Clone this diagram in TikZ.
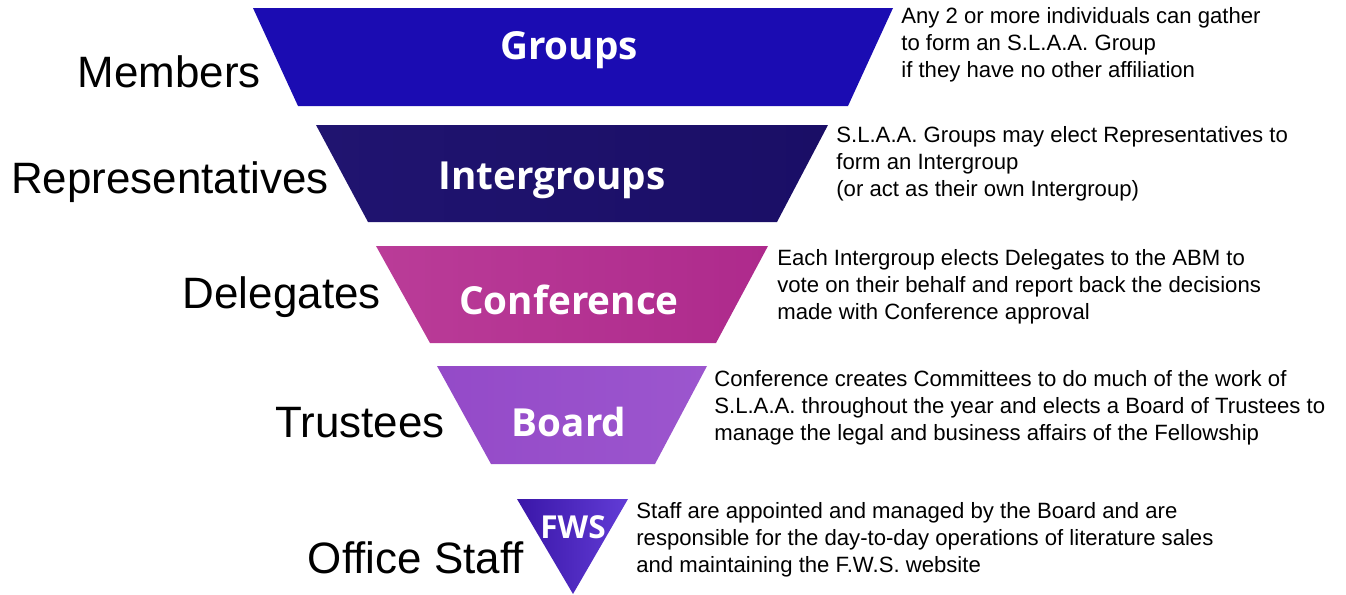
\documentclass[tikz,border=0pt]{standalone}
\usepackage{fontspec}
\setmainfont{Liberation Sans}
\newfontfamily\tierfont{Open Sans}
\usetikzlibrary{positioning}
\definecolor{colg}{RGB}{27,12,178}
\definecolor{coli}{RGB}{26,14,102}
\definecolor{colil}{RGB}{32,20,112}
\definecolor{colc}{RGB}{174,42,140}
\definecolor{colcl}{RGB}{186,60,152}
\definecolor{colb}{RGB}{148,74,200}
\definecolor{colbl}{RGB}{156,86,206}
\definecolor{colf}{RGB}{98,60,214}
\definecolor{colfd}{RGB}{58,22,168}

\begin{document}
\begin{tikzpicture}[x=0.02cm, y=-0.02cm,
    tier/.style={text=white, inner sep=0pt, font=\tierfont\bfseries\fontsize{22}{26}\selectfont},
    role/.style={anchor=east, inner sep=0pt, font=\fontsize{25}{30}\selectfont},
    note/.style={anchor=west, align=left, inner sep=0pt, font=\fontsize{12.6}{15.3}\selectfont}]
  \useasboundingbox (0,0) rectangle (1346,595);

  % the five levels, widest on top
  \fill[colg] (253,8) -- (893,8) -- (848,106) -- (298,106) -- cycle;
  \shade[left color=colil, right color=coli] (316,125) -- (828,125) -- (777,222) -- (368,222) -- cycle;
  \shade[left color=colcl, right color=colc] (376,246) -- (768,246) -- (716,343) -- (430,343) -- cycle;
  \shade[left color=colb, right color=colbl] (437,366) -- (707,366) -- (655,464) -- (491,464) -- cycle;
  \shade[left color=colfd, right color=colf] (517,499) -- (628,499) -- (573,594) -- cycle;

  \node[tier] (groups) at (569,50) {Groups};
  \node[tier] (intergroups) at (552,180) {Intergroups};
  \node[tier] (conference) at (569,300) {Conference};
  \node[tier] (board) at (569,422) {Board};
  \node[tier, font=\tierfont\bfseries\fontsize{18}{20}\selectfont] (fws) at (573,527) {FWS};

  \node[role] (members) at (261,72) {Members};
  \node[role] (reps) at (329,182) {Representatives};
  \node[role] (delegates) at (381,297) {Delegates};
  \node[role] (trustees) at (445,423) {Trustees};
  \node[role] (staff) at (524,558) {Office Staff};

  \node[note] (groupsnote) at (901,45) {Any 2 or more individuals can gather\\to form an S.L.A.A. Group\\if they have no other affiliation};
  \node[note] (intergroupsnote) at (836,164) {S.L.A.A. Groups may elect Representatives to\\form an Intergroup\\(or act as their own Intergroup)};
  \node[note] (conferencenote) at (777,287) {Each Intergroup elects Delegates to the ABM to\\vote on their behalf and report back the decisions\\made with Conference approval};
  \node[note] (boardnote) at (714,408) {Conference creates Committees to do much of the work of\\S.L.A.A. throughout the year and elects a Board of Trustees to\\manage the legal and business affairs of the Fellowship};
  \node[note] (fwsnote) at (636,540) {Staff are appointed and managed by the Board and are\\responsible for the day-to-day operations of literature sales\\and maintaining the F.W.S. website};
\end{tikzpicture}
\end{document}
